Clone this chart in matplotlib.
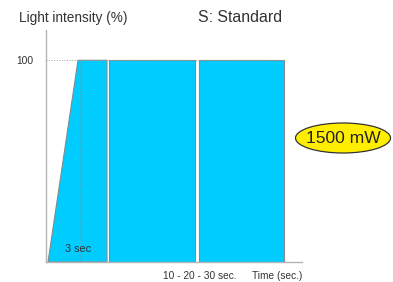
import matplotlib
matplotlib.use("Agg")
import matplotlib.pyplot as plt
from matplotlib.patches import Polygon, Rectangle, Ellipse

# schematic exposure profile (x in schematic time units, y in %)
ramp_time = [0, 3]
ramp_level = [0, 100]
block_starts = [3, 6.1, 15.1]
block_ends = [5.9, 14.7, 23.6]
level = 100
y_ticks = [100]
y_tick_labels = ["100"]

blue = "#00CCFF"
edge = "#7E8C90"
axis_col = "#B4B4B4"
font = ["Liberation Sans", "DejaVu Sans"]
txt = "#333333"


def main():
    fig = plt.figure(figsize=(3.93, 2.82), dpi=100)
    ax = fig.add_axes([46 / 393, 20 / 282, 256 / 393, 232 / 282])
    ax.set_xlim(-0.2, 25.4)
    ax.set_ylim(0, 115)

    # ramp + first block as one shape
    first = Polygon([(ramp_time[0], ramp_level[0]), (ramp_time[1], ramp_level[1]),
                     (block_ends[0], level), (block_ends[0], 0)],
                    closed=True, facecolor=blue, edgecolor=edge, lw=0.8)
    ax.add_patch(first)
    for s, e in zip(block_starts[1:], block_ends[1:]):
        ax.add_patch(Rectangle((s, 0), e - s, level, facecolor=blue,
                               edgecolor=edge, lw=0.8))

    ax.plot([ramp_time[0] - 0.2, block_ends[-1]], [level, level], ls=":",
            color="#A0A0A0", lw=0.7, zorder=3)
    ax.plot([ramp_time[1] + 0.15] * 2, [0, level], ls=":", color="#5A9FB0",
            lw=0.7, zorder=3)

    for s in ["top", "right"]:
        ax.spines[s].set_visible(False)
    for s in ["left", "bottom"]:
        ax.spines[s].set_color(axis_col)
        ax.spines[s].set_linewidth(1.0)
    ax.set_xticks([])
    ax.set_yticks(y_ticks)
    ax.set_yticklabels(y_tick_labels, family=font, fontsize=7.4, color=txt)
    ax.tick_params(axis="y", length=0, pad=9)

    fig.text(19 / 393, 1 - 22 / 282, "Light intensity (%)", family=font,
             fontsize=9.8, color=txt, va="baseline")
    fig.text(198 / 393, 1 - 22 / 282, "S: Standard", family=font,
             fontsize=11.4, color=txt, va="baseline")
    ax.text(3.0, 5, "3 sec", family=font, fontsize=7.8, color=txt,
            ha="center", va="baseline")
    fig.text(200 / 393, 1 - 279 / 282, "10 - 20 - 30 sec.", family=font,
             fontsize=7.3, color=txt, ha="center", va="baseline")
    fig.text(277 / 393, 1 - 279 / 282, "Time (sec.)", family=font,
             fontsize=7.3, color=txt, ha="center", va="baseline")

    ell = Ellipse((343 / 393, 1 - 138 / 282), 95 / 393, 30 / 282,
                  transform=fig.transFigure, facecolor="#FFEE00",
                  edgecolor="#333333", lw=0.9)
    fig.patches.append(ell)
    fig.text(343 / 393, 1 - 138.5 / 282, "1500 mW", family=font, fontsize=12.6,
             color="#222222", ha="center", va="center")

    fig.savefig("out.png", dpi=100)


if __name__ == "__main__":
    main()
